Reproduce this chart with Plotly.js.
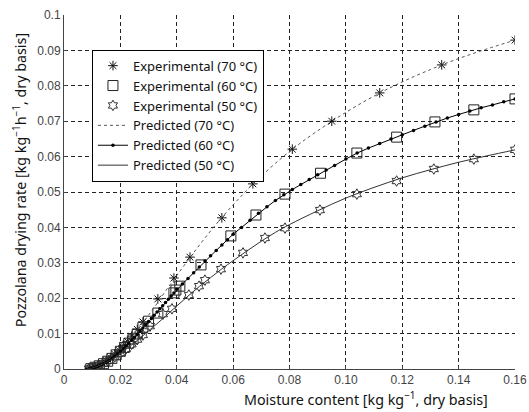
<!DOCTYPE html>
<html>
<head>
<meta charset="utf-8">
<script src="https://cdn.plot.ly/plotly-3.0.1.min.js"></script>
<style>html,body{margin:0;padding:0;background:#fff;}#chart{width:529px;height:412px;}</style>
</head>
<body>
<div id="chart"></div>
<script>
// ---- data ----
const exp70X = [0.160, 0.134, 0.112, 0.095, 0.081, 0.067, 0.056, 0.0447, 0.039, 0.0333, 0.028,
  0.026, 0.024, 0.0225, 0.021, 0.0195, 0.018, 0.0165, 0.015, 0.0135, 0.012, 0.011, 0.010, 0.009];
const exp70Y = [0.0929, 0.0859, 0.0780, 0.0700, 0.0621, 0.0523, 0.0427, 0.0316, 0.0257, 0.0198, 0.0133,
  0.0112, 0.0093, 0.0078, 0.0066, 0.0053, 0.0042, 0.0032, 0.0024, 0.0016, 0.0010, 0.0006, 0.0003, 0.0001];

const exp60X = [0.160, 0.1454, 0.1316, 0.118, 0.1039, 0.0910, 0.0784, 0.0681, 0.0592, 0.0486, 0.0411, 0.0397, 0.039, 0.0333, 0.030,
  0.028, 0.026, 0.0245, 0.023, 0.0215, 0.020, 0.0185, 0.017, 0.0155, 0.014, 0.0125, 0.011, 0.0095];
const exp60Y = [0.0763, 0.0732, 0.0698, 0.0655, 0.0610, 0.0553, 0.0494, 0.0435, 0.0376, 0.0294, 0.0234, 0.0223, 0.0215, 0.0158, 0.0135,
  0.0118, 0.0099, 0.0085, 0.0073, 0.0061, 0.0050, 0.0040, 0.0030, 0.0022, 0.0015, 0.0009, 0.0005, 0.0001];

const exp50X = [0.160, 0.1454, 0.1312, 0.118, 0.1039, 0.0908, 0.0784, 0.0713, 0.0635, 0.0557, 0.0500, 0.0479, 0.0443, 0.0383, 0.0351, 0.0305,
  0.028, 0.026, 0.024, 0.022, 0.020, 0.018, 0.016, 0.014, 0.012, 0.010, 0.0088];
const exp50Y = [0.0619, 0.0593, 0.0565, 0.0531, 0.0494, 0.0449, 0.0398, 0.0370, 0.0328, 0.0282, 0.0251, 0.0234, 0.0209, 0.0170, 0.0155, 0.0121,
  0.0096, 0.0083, 0.0070, 0.0057, 0.0045, 0.0034, 0.0024, 0.0015, 0.0008, 0.0003, 0.0001];

const pred70X = [0.008, 0.010, 0.012, 0.014, 0.016, 0.018, 0.020, 0.022, 0.024, 0.026, 0.028, 0.030, 0.033, 0.036, 0.040,
  0.045, 0.050, 0.056, 0.062, 0.068, 0.075, 0.082, 0.090, 0.100, 0.110, 0.120, 0.130, 0.140, 0.150, 0.160];
const pred70Y = [0, 0.0004, 0.0010, 0.0018, 0.0028, 0.0041, 0.0056, 0.0072, 0.0090, 0.0110, 0.0131, 0.0152, 0.0185, 0.0220, 0.0264,
  0.0318, 0.0370, 0.0428, 0.0481, 0.0530, 0.0581, 0.0627, 0.0673, 0.0725, 0.0771, 0.0811, 0.0846, 0.0877, 0.0904, 0.0929];

const pred60X = [0.008, 0.009, 0.010, 0.011, 0.012, 0.013, 0.014, 0.015, 0.016, 0.017, 0.018, 0.019, 0.020, 0.021, 0.022,
  0.023, 0.024, 0.025, 0.026, 0.027, 0.028, 0.029, 0.030, 0.031, 0.032, 0.033, 0.034, 0.035, 0.036, 0.037, 0.038, 0.039,
  0.040, 0.042, 0.044, 0.046, 0.048, 0.050, 0.052, 0.054, 0.056, 0.058, 0.060, 0.063, 0.066, 0.069, 0.072, 0.075, 0.078,
  0.081, 0.084, 0.087, 0.090, 0.093, 0.096, 0.100, 0.104, 0.108, 0.112, 0.116, 0.120, 0.124, 0.128, 0.132, 0.136, 0.140,
  0.144, 0.148, 0.152, 0.156, 0.160];
const pred60Y = [0, 0.0001, 0.0003, 0.0005, 0.0008, 0.0011, 0.0015, 0.0019, 0.0024, 0.0030, 0.0036, 0.0043, 0.0050, 0.0057, 0.0065,
  0.0073, 0.0081, 0.0089, 0.0098, 0.0107, 0.0116, 0.0125, 0.0134, 0.0143, 0.0152, 0.0161, 0.0170, 0.0179, 0.0188, 0.0197, 0.0206, 0.0215,
  0.0225, 0.0240, 0.0256, 0.0272, 0.0288, 0.0305, 0.0320, 0.0335, 0.0350, 0.0365, 0.0381, 0.0400, 0.0420, 0.0440, 0.0458, 0.0476, 0.0492,
  0.0507, 0.0521, 0.0535, 0.0549, 0.0562, 0.0575, 0.0593, 0.0610, 0.0624, 0.0637, 0.0650, 0.0662, 0.0674, 0.0686, 0.0698, 0.0709, 0.0719,
  0.0729, 0.0738, 0.0746, 0.0755, 0.0763];

const pred50X = [0.008, 0.010, 0.012, 0.014, 0.016, 0.018, 0.020, 0.022, 0.024, 0.026, 0.028, 0.030, 0.033, 0.036, 0.040, 0.044,
  0.048, 0.052, 0.056, 0.060, 0.065, 0.070, 0.075, 0.080, 0.090, 0.100, 0.110, 0.120, 0.130, 0.140, 0.150, 0.160];
const pred50Y = [0, 0.0003, 0.0008, 0.0015, 0.0023, 0.0033, 0.0044, 0.0056, 0.0068, 0.0081, 0.0094, 0.0108, 0.0128, 0.0149, 0.0178, 0.0206,
  0.0233, 0.0258, 0.0283, 0.0306, 0.0334, 0.0361, 0.0386, 0.0408, 0.0447, 0.0483, 0.0513, 0.0540, 0.0563, 0.0584, 0.0602, 0.0619];

const seriesNames = ['Experimental (70 °C)', 'Experimental (60 °C)', 'Experimental (50 °C)',
  'Predicted (70 °C)', 'Predicted (60 °C)', 'Predicted (50 °C)'];

const xTickVals = [0, 0.02, 0.04, 0.06, 0.08, 0.10, 0.12, 0.14, 0.16];
const xTickText = ['0', '0.02', '0.04', '0.06', '0.08', '0.10', '0.12', '0.14', '0.16'];
const yTickVals = [0, 0.01, 0.02, 0.03, 0.04, 0.05, 0.06, 0.07, 0.08, 0.09, 0.1];
const yTickText = ['0', '0.01', '0.02', '0.03', '0.04', '0.05', '0.06', '0.07', '0.08', '0.09', '0.1'];

const xTitle = 'Moisture content [kg kg<sup>−1</sup>, dry basis]';
const yTitle = 'Pozzolana drying rate [kg kg<sup>−1</sup>h<sup>−1</sup>, dry basis]';

// ---- traces ----
const traces = [
  {x: exp70X, y: exp70Y, name: seriesNames[0], mode: 'markers', type: 'scatter',
   marker: {symbol: 'asterisk-open', size: 8, color: '#111', line: {color: '#111', width: 1}}},
  {x: exp60X, y: exp60Y, name: seriesNames[1], mode: 'markers', type: 'scatter',
   marker: {symbol: 'square-open', size: 10, color: '#222', line: {color: '#222', width: 1}}},
  {x: exp50X, y: exp50Y, name: seriesNames[2], mode: 'markers', type: 'scatter',
   marker: {symbol: 'hexagram-open', size: 8, color: '#333', line: {color: '#333', width: 1}}},
  {x: pred70X, y: pred70Y, name: seriesNames[3], mode: 'lines', type: 'scatter', line: {shape: 'spline',
   color: '#555', width: 1, dash: '3px,3px'}},
  {x: pred60X, y: pred60Y, name: seriesNames[4], mode: 'lines+markers', type: 'scatter',
   line: {color: '#000', width: 1}, marker: {symbol: 'circle', size: 3.5, color: '#000'}},
  {x: pred50X, y: pred50Y, name: seriesNames[5], mode: 'lines', type: 'scatter', line: {shape: 'spline',
   color: '#333', width: 1}}
];

const gridDash = '4px,3px';
const layout = {
  width: 529, height: 412,
  margin: {l: 64, r: 14, t: 15, b: 43},
  paper_bgcolor: '#fff', plot_bgcolor: '#fff',
  showlegend: true,
  legend: {x: 0.062, y: 0.902, xanchor: 'left', yanchor: 'top', bgcolor: '#fff',
    bordercolor: '#000', borderwidth: 1, font: {family: 'Noto Sans', size: 13, color: '#111'},
    tracegroupgap: 0, itemwidth: 30},
  font: {family: 'Liberation Sans', size: 12, color: '#333'},
  xaxis: {range: [0, 0.16], tickvals: xTickVals, ticktext: xTickText, showgrid: true,
    gridcolor: '#222', gridwidth: 1, griddash: gridDash, zeroline: false, showline: true,
    linecolor: '#444', linewidth: 1, ticks: 'inside', ticklen: 3, tickcolor: '#444',
    tickfont: {family: 'Liberation Sans', size: 12, color: '#444'}, fixedrange: true},
  yaxis: {range: [0, 0.1], tickvals: yTickVals, ticktext: yTickText, showgrid: true,
    gridcolor: '#222', gridwidth: 1, griddash: gridDash, zeroline: false, showline: true,
    linecolor: '#444', linewidth: 1, ticks: 'inside', ticklen: 3, tickcolor: '#444',
    tickfont: {family: 'Liberation Sans', size: 12, color: '#444'}, fixedrange: true},
  annotations: [
    {text: xTitle, xref: 'paper', yref: 'paper', x: 0.67, y: -0.082, xanchor: 'center', yanchor: 'middle',
     showarrow: false, font: {family: 'Noto Sans', size: 14.3, color: '#111'}},
    {text: yTitle, xref: 'paper', yref: 'paper', x: -0.097, y: 0.534, xanchor: 'center', yanchor: 'middle',
     textangle: -90, showarrow: false, font: {family: 'Noto Sans', size: 14.3, color: '#111'}}
  ]
};

Plotly.newPlot('chart', traces, layout, {displayModeBar: false, staticPlot: true});
</script>
</body>
</html>
